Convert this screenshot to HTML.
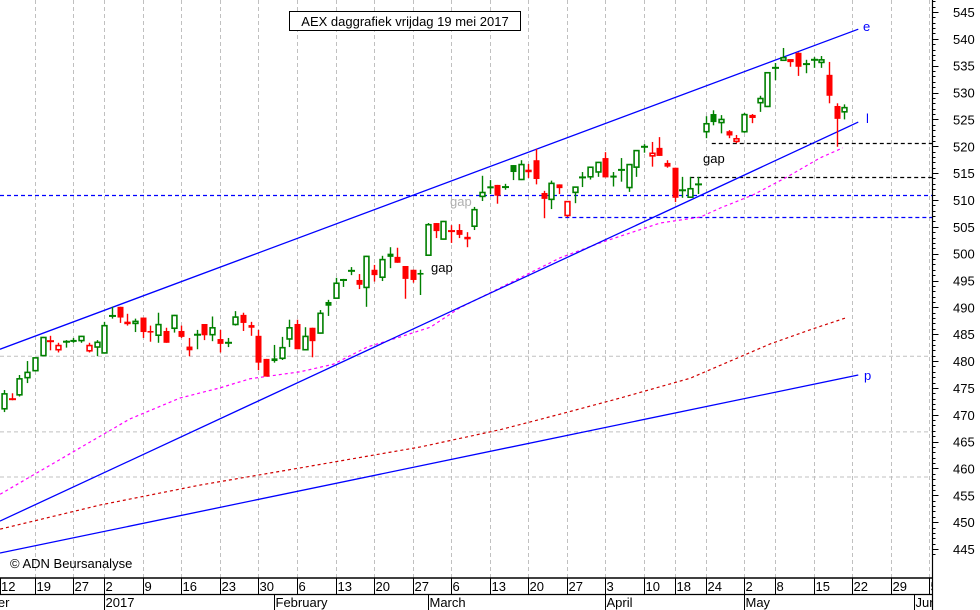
<!DOCTYPE html>
<html><head><meta charset="utf-8"><style>
html,body{margin:0;padding:0;background:#fff;}
svg{display:block;font-family:"Liberation Sans",sans-serif;}
</style></head><body>
<svg id="chart" width="980" height="610" viewBox="0 0 980 610" xmlns="http://www.w3.org/2000/svg">
<defs><clipPath id="xclip"><rect x="0" y="570" width="932" height="40"/></clipPath></defs>
<rect x="0" y="0" width="980" height="610" fill="#fff"/>
<g id="grid"></g>
<g id="lines"></g>
<g id="candles"></g>
<g id="axes"></g>
<g id="xaxis" clip-path="url(#xclip)"></g>
<g>
<rect x="289.5" y="11.5" width="231" height="19" fill="#fff" stroke="#000" stroke-width="1"/>
<text x="405" y="26" text-anchor="middle" font-size="13" fill="#000">AEX daggrafiek vrijdag 19 mei 2017</text>
<text x="10" y="568" font-size="13" fill="#000">© ADN Beursanalyse</text>
<text x="431" y="272" font-size="13" fill="#000">gap</text>
<text x="450" y="206" font-size="13" fill="#b0b0b0">gap</text>
<text x="703" y="163" font-size="13" fill="#000">gap</text>
<text x="863" y="31" font-size="13" fill="#0000ff">e</text>
<text x="866" y="123" font-size="13" fill="#0000ff">l</text>
<text x="864" y="380" font-size="13" fill="#0000ff">p</text>
</g>
</svg>
<script>
// ---- data ----
const opens  = [471.0,472.9,473.6,476.8,478.1,480.9,483.7,482.0,483.6,483.6,483.7,481.8,482.5,481.4,488.4,490.1,486.9,486.9,488.1,485.6,484.7,485.6,486.0,485.6,482.7,484.9,486.9,484.8,484.1,483.4,486.7,488.6,486.7,484.7,480.4,480.5,480.4,484.0,486.9,482.0,486.2,485.1,491.0,491.6,495.1,496.8,495.1,493.6,497.0,495.5,500.0,499.4,497.7,497.0,496.4,499.6,505.7,502.6,504.2,504.4,502.7,505.0,510.55,512.2,512.8,512.4,516.5,513.7,515.2,517.4,511.3,510.0,512.9,507.0,511.3,514.2,514.2,515.1,517.8,514.2,515.6,512.2,516.0,519.9,518.1,519.7,516.9,516.0,511.8,510.4,512.9,522.6,526.0,524.3,522.8,520.8,522.6,525.3,528.0,527.3,534.6,535.9,535.7,537.4,535.3,536.1,535.5,533.3,527.5,526.3];
const highs  = [474.6,474.0,477.4,480.0,480.7,484.5,484.7,483.4,483.9,484.3,484.7,483.4,483.9,487.3,490.1,490.1,488.8,487.9,488.1,486.6,489.0,486.2,488.6,486.6,484.3,485.8,486.9,488.3,485.8,484.3,489.3,489.0,487.3,485.8,480.4,483.0,484.5,487.7,487.7,486.3,486.2,489.5,491.4,495.5,495.3,497.5,496.2,499.6,497.9,499.6,501.2,501.1,497.7,497.0,497.0,505.7,505.7,506.1,505.3,505.5,504.0,508.7,514.5,513.7,512.8,513.0,516.5,517.4,516.7,519.5,511.7,513.6,512.9,509.8,512.5,515.2,516.2,517.1,518.9,515.2,517.8,516.7,519.3,520.4,520.8,521.7,517.4,516.0,514.3,514.3,514.3,525.6,526.7,525.8,523.0,522.1,526.2,526.0,529.4,533.8,535.5,538.3,536.2,537.5,536.1,536.6,536.8,535.7,528.0,527.8];
const lows   = [470.5,472.7,473.4,475.9,478.1,480.9,482.0,481.6,482.5,483.4,483.4,481.6,480.9,481.4,487.9,487.1,486.6,485.4,484.3,483.6,483.4,483.4,485.3,484.3,480.9,482.2,483.9,483.7,481.6,482.6,486.6,485.6,484.7,478.3,477.1,479.7,480.2,482.6,482.2,482.0,480.7,485.1,488.4,491.6,493.8,496.0,493.4,490.1,494.8,494.9,497.3,498.3,491.6,494.6,492.3,499.6,502.9,502.6,502.0,502.9,501.2,504.4,509.8,511.1,509.3,511.9,513.7,513.7,514.1,512.9,506.6,508.3,511.1,506.8,509.4,512.4,513.8,514.3,514.2,512.5,513.4,511.5,514.3,518.8,516.2,518.2,516.0,509.6,510.4,510.4,511.1,521.5,523.9,522.4,521.5,520.6,522.5,524.3,526.4,527.3,532.3,535.9,534.8,533.1,533.6,534.6,534.6,528.0,519.9,525.0];
const closes = [474.0,472.9,476.8,478.0,480.7,484.5,483.7,483.0,483.6,483.9,484.7,483.0,483.6,486.7,488.4,488.1,487.3,487.5,485.4,485.3,486.9,483.4,488.6,484.5,482.0,484.9,484.8,486.3,483.2,483.4,488.3,487.1,486.2,479.7,477.1,480.0,482.6,486.3,482.2,484.7,483.7,489.0,490.3,494.6,495.1,496.8,494.2,499.6,496.0,499.0,499.4,498.3,495.3,495.1,496.1,505.5,504.2,506.1,504.2,503.5,503.1,508.3,511.5,512.5,510.8,512.4,515.2,516.7,515.6,513.9,510.2,513.2,512.2,509.8,512.5,514.2,516.2,517.1,514.2,514.5,515.6,516.7,519.3,519.9,518.8,518.2,516.2,510.4,511.8,512.2,512.9,524.3,524.5,525.1,522.0,521.5,526.0,525.8,529.0,533.8,534.6,536.6,536.2,534.8,535.3,536.1,536.2,529.4,525.1,527.3];
const maShort = [[-0.5,455.2],[7.3,461.7],[16.3,469.2],[22.8,473.1],[28.0,475.0],[31.9,476.7],[38.4,478.0],[42.7,479.4],[47.1,482.6],[51.4,484.5],[55.3,486.3],[59.1,489.9],[64.3,493.6],[72.1,499.2],[77.3,502.0],[85.1,505.7],[90.3,506.8],[92.9,508.5],[97.1,510.9],[101.6,514.3],[105.8,517.8],[108.8,519.7]];
const maLong  = [[-0.5,448.7],[12.5,453.2],[25.4,456.9],[38.4,460.1],[54.0,464.0],[64.3,467.2],[72.1,470.1],[79.9,473.1],[89.0,476.8],[99.4,483.2],[104.5,485.8],[109.1,488.0]];
const lineE = [-0.52,482.2,110.8,541.8];
const lineL = [-0.52,450.2,110.8,524.5];
const lineP = [-0.52,444.25,110.8,477.4];
const levels = [[91.8,520.6,'#000'],[89,514.3,'#000'],[-1,510.9,'#0000ff'],[71.9,506.8,'#0000ff']];
const gridValues = [480.9,466.8,458.4];
const yTicks = [545,540,535,530,525,520,515,510,505,500,495,490,485,480,475,470,465,460,455,450,445];
const dateTickIdx = [-1,4,9,13,18,23,28,33,38,43,48,53,58,63,68,73,78,83,87,91,96,100,105,110,115,120];
const dateTickLbl = ['12','19','27','2','9','16','23','30','6','13','20','27','6','13','20','27','3','10','18','24','2','8','15','22','29','5'];
const monthIdx = [-7.3,13,35,55,78,96,118];
const monthLbl = ['December','2017','February','March','April','May','June'];

// ---- scales ----
const PW = 932.5, PB = 578;
function X(k){ return 4 + k*7.71; }
function Y(v){ return 12 + (545 - v)*5.37; }
const NS='http://www.w3.org/2000/svg';
function mk(tag, attrs, parent){ const e=document.createElementNS(NS,tag); for(const a in attrs) e.setAttribute(a,attrs[a]); parent.appendChild(e); return e; }
const grid=document.getElementById('grid'), lines=document.getElementById('lines'), cg=document.getElementById('candles'), axes=document.getElementById('axes'), xa=document.getElementById('xaxis');

gridValues.forEach(v=>{
  const l=mk('line',{x1:0,x2:PW,y1:Y(v),y2:Y(v),stroke:'#c0c0c0','stroke-dasharray':'4,3'},grid);
  
  
});
dateTickIdx.forEach(k=>{
  const x=Math.round(X(k))+0.5;
  if(x<1||x>PW) return;
  const l=mk('line',{x1:x,x2:x,y1:0,y2:PB,stroke:'#c0c0c0','stroke-dasharray':'4,3'},grid);
  
  
});

levels.forEach(lv=>{
  const l=mk('line',{x1:Math.max(0,X(lv[0])),x2:PW,y1:Math.round(Y(lv[1]))+0.5,y2:Math.round(Y(lv[1]))+0.5,stroke:lv[2],'stroke-dasharray':'4,3','stroke-width':1.2},lines);
  
  
});
function poly(arr,color,name){
  const p=mk('polyline',{points:arr.map(d=>X(d[0])+','+Y(d[1])).join(' '),fill:'none',stroke:color,'stroke-width':1.2,'stroke-dasharray':'3,3'},lines);
  
  
}
poly(maLong,'#d00000','moving-average-long');
poly(maShort,'#ff00ff','moving-average-short');
[[lineE,'trend-line-e'],[lineL,'trend-line-l'],[lineP,'trend-line-p']].forEach(t=>{
  const d=t[0];
  const l=mk('line',{x1:X(d[0]),y1:Y(d[1]),x2:X(d[2]),y2:Y(d[3]),stroke:'#0000ff','stroke-width':1.3},lines);
  
  
});

for(let i=0;i<opens.length;i++){
  const o=opens[i],h=highs[i],lo=lows[i],c=closes[i];
  const prev=i>0?closes[i-1]:o-1;
  const col=c>=prev?'#008000':'#ff0000';
  const cx=Math.round(X(i))+0.5;
  const g=mk('g',{},cg);
  
  
  mk('line',{x1:cx,x2:cx,y1:Y(h),y2:Y(lo),stroke:col,'stroke-width':1.4},g);
  const top=Y(Math.max(o,c)), bot=Y(Math.min(o,c));
  if(bot-top<1.6){
    mk('rect',{x:cx-3.5,y:(top+bot)/2-1,width:7,height:2,fill:col},g);
  } else if(c<o){
    mk('rect',{x:cx-3,y:top,width:6,height:bot-top,fill:col},g);
  } else {
    mk('rect',{x:cx-2.4,y:top+0.6,width:4.8,height:bot-top-1.2,fill:'#fff',stroke:col,'stroke-width':1.6},g);
  }
}

mk('rect',{x:PW,y:0,width:980-PW,height:610,fill:'#fff'},axes);
mk('rect',{x:0,y:PB,width:980,height:32,fill:'#fff'},axes);
const ya=mk('line',{x1:PW,x2:PW,y1:0,y2:610,stroke:'#000','stroke-width':1.2},axes);


for(let v=444;v<=547;v++){
  const y=Math.round(Y(v))+0.5;
  if(y<0||y>PB) continue;
  mk('line',{x1:PW,x2:PW+(v%5===0?6:3),y1:y,y2:y,stroke:'#000'},axes);
}
yTicks.forEach(v=>{
  const t=mk('text',{x:953,y:Y(v)+5,'font-size':13,fill:'#000'},axes);
  t.textContent=v;
  
  
});
mk('line',{x1:0,x2:PW,y1:PB,y2:PB,stroke:'#000','stroke-width':1.5},xa);
mk('line',{x1:0,x2:PW,y1:594.5,y2:594.5,stroke:'#000','stroke-width':1.2},xa);
dateTickIdx.forEach((k,i)=>{
  const x=Math.round(X(k))+0.5;
  mk('line',{x1:Math.max(x,0.5),x2:Math.max(x,0.5),y1:PB,y2:594,stroke:'#000'},xa);
  const t=mk('text',{x:Math.max(x,0)+1,y:591,'font-size':13,fill:'#000'},xa);
  t.textContent=dateTickLbl[i];
  
  
});
monthIdx.forEach((k,i)=>{
  const x=Math.round(X(k))+0.5;
  if(x>0) mk('line',{x1:x,x2:x,y1:594,y2:610,stroke:'#000'},xa);
  const t=mk('text',{x:x+1,y:607,'font-size':13,fill:'#000'},xa);
  t.textContent=monthLbl[i];
  
  
});
</script>
</body></html>
